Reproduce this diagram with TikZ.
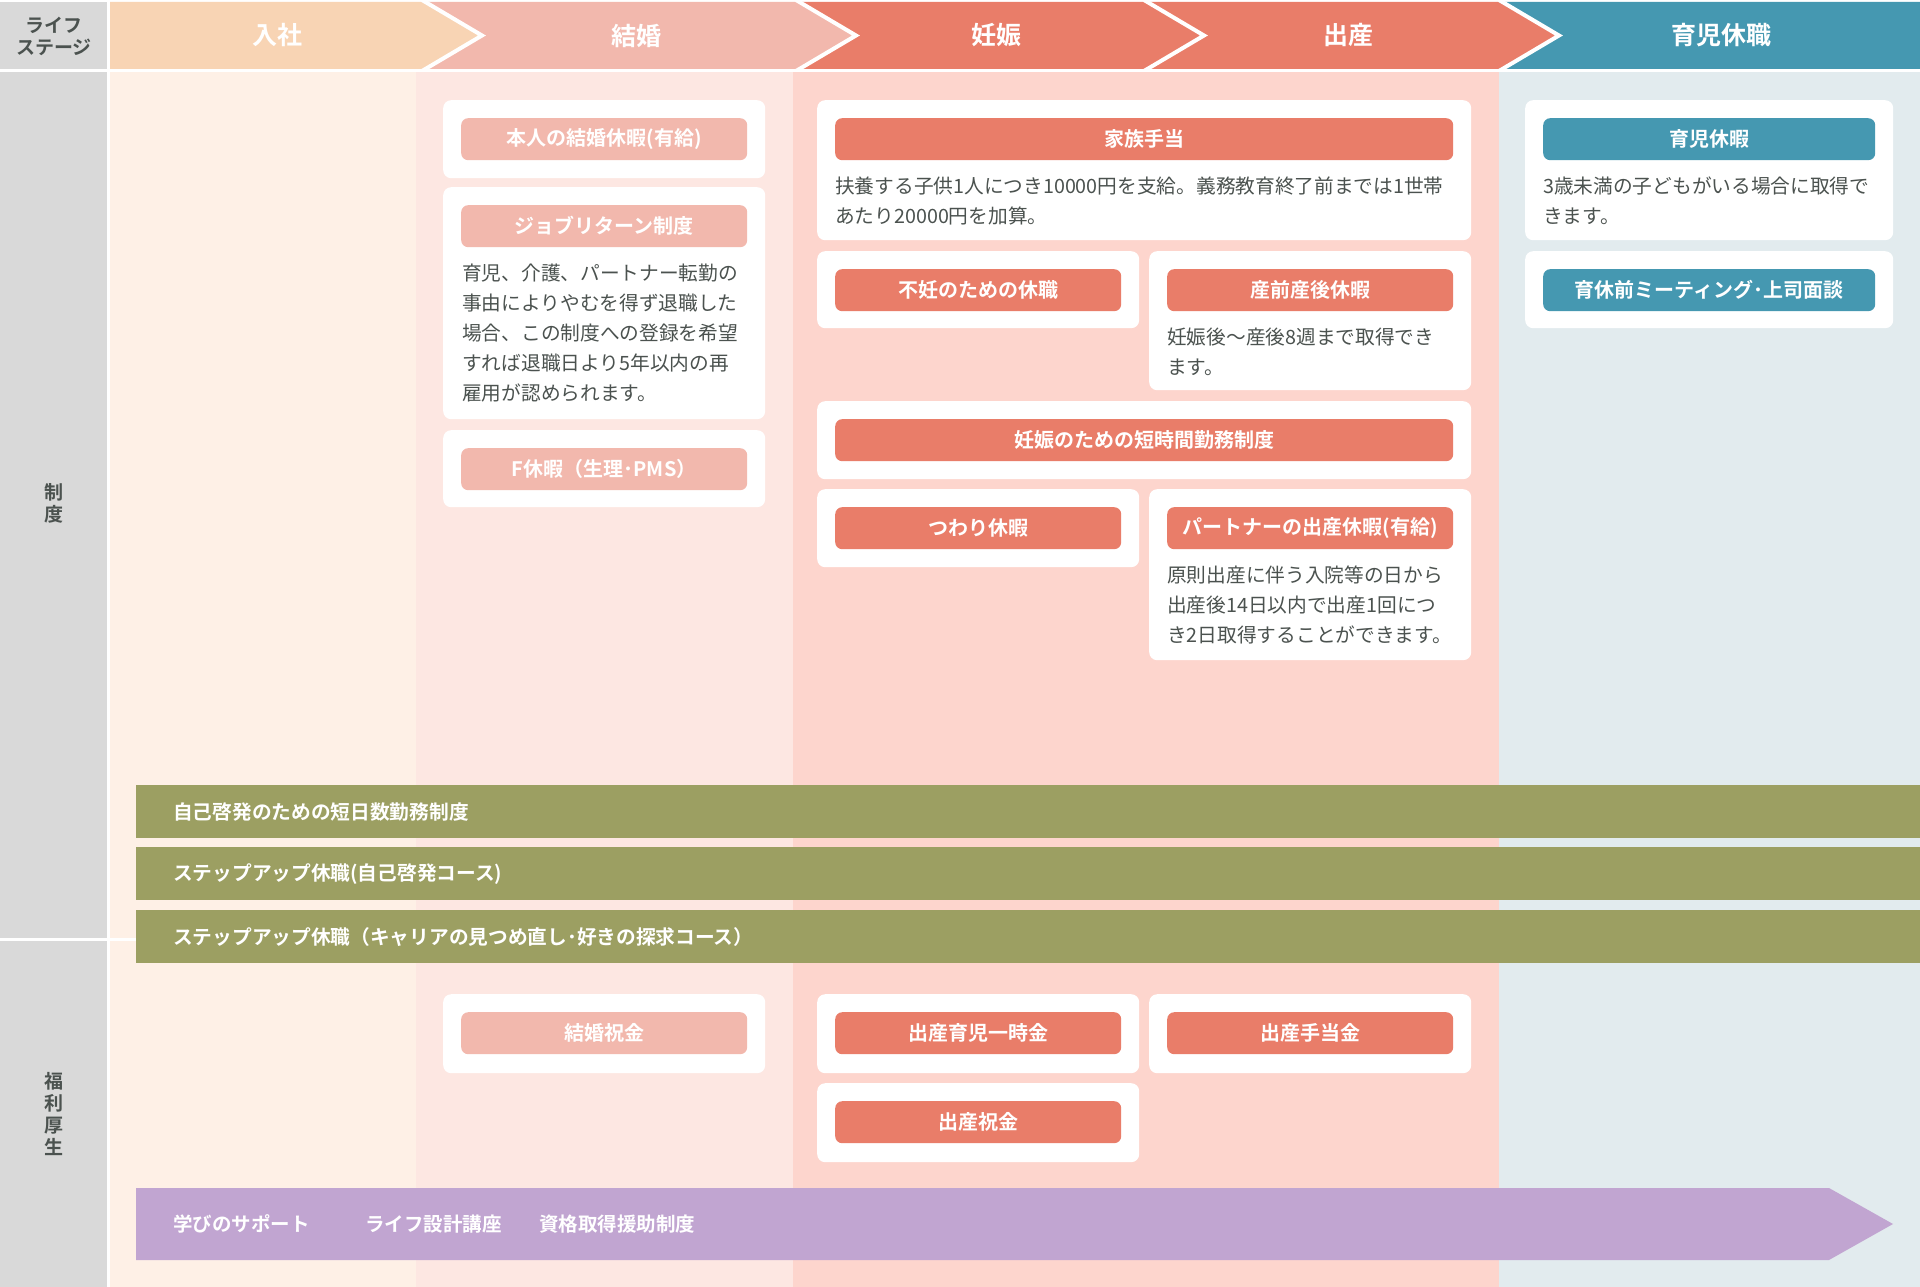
\documentclass[tikz,border=0pt]{standalone}
\usepackage{fontspec}
\setmainfont{Noto Sans CJK JP}[BoldFont={Noto Sans CJK JP Bold}]
\usetikzlibrary{positioning}
\definecolor{lsgray}{HTML}{D9D9D9}
\definecolor{ink}{HTML}{4B524F}
\definecolor{hdjoin}{HTML}{F8D4B4}
\definecolor{bgjoin}{HTML}{FEF0E6}
\definecolor{hdmarry}{HTML}{F2B8AD}
\definecolor{bgmarry}{HTML}{FDE7E2}
\definecolor{hdbirth}{HTML}{E97D69}
\definecolor{bgbirth}{HTML}{FDD5CD}
\definecolor{hdcare}{HTML}{4598B1}
\definecolor{bgcare}{HTML}{E2EBEE}
\definecolor{olive}{HTML}{9C9F62}
\definecolor{lilac}{HTML}{C1A5D1}

\begin{document}
\begin{tikzpicture}[x=1pt, y=-1pt]
    \tikzset{
        card/.style={fill=white, rounded corners=8pt, inner sep=0pt, anchor=north west},
        tag/.style={rounded corners=7pt, minimum height=42pt, inner sep=0pt, text=white, font=\fontsize{20}{20}\selectfont\bfseries},
        desc/.style={inner sep=0pt, align=left, text=ink, font=\fontsize{19.7}{30}\selectfont},
        stage/.style={text=white, font=\fontsize{25}{25}\selectfont\bfseries},
        side/.style={align=center, inner sep=0pt, text=ink, font=\fontsize{19}{22}\selectfont\bfseries},
        band/.style={fill=olive, anchor=north west, minimum height=53pt, text width=1710pt, inner xsep=37pt, inner ysep=0pt, align=left, text=white, font=\fontsize{19.7}{19.7}\selectfont\bfseries},
        learn/.style={anchor=west, inner sep=0pt, text=white, font=\fontsize{19.5}{19.5}\selectfont\bfseries}
    };
    \fill[white] (0,0) rectangle (1920,1287);
    \useasboundingbox (0,0) rectangle (1920,1287);
    % Header
    \fill[lsgray] (0,2) rectangle (107,69);
    \node[side] (lifestage) at (54,36) {ライフ\\ステージ};
    \fill[hdjoin] (110,2) -- (422,2) -- (482,35.5) -- (422,69) -- (110,69) -- cycle;
    \foreach \xa/\xb/\c in {422/796/hdmarry, 796/1144/hdbirth, 1144/1499/hdbirth}{
        \fill[\c] (\xa,2) -- (\xb,2) -- (\xb+60,35.5) -- (\xb,69) -- (\xa,69) -- (\xa+60,35.5) -- cycle;
    }
    \fill[hdcare] (1499,2) -- (1920,2) -- (1920,69) -- (1499,69) -- (1559,35.5) -- cycle;
    \foreach \xa in {422, 796, 1144, 1499}{
        \draw[white, line width=4pt] (\xa,0) -- (\xa+60,35.5) -- (\xa,71);
    }
    \foreach \n/\x/\t in {join/277/入社, marry/636/結婚, preg/996/妊娠, birth/1348/出産, care/1721/育児休職}{
        \node[stage] (\n) at (\x,35.5) {\t};
    }
    % Columns
    \fill[lsgray] (0,72) rectangle (107,1287);
    \fill[bgjoin] (110,72) rectangle (416,1287);
    \fill[bgmarry] (416,72) rectangle (793,1287);
    \fill[bgbirth] (793,72) rectangle (1499,1287);
    \fill[bgcare] (1499,72) rectangle (1920,1287);
    \draw[white, line width=3pt] (0,939) -- (136,939);
    \node[side] (seido) at (54,503) {制\\度};
    \node[side] (fukuri) at (54,1114) {福\\利\\厚\\生};
    % Cards
    \foreach \n/\x/\y/\w/\h in {mA/443/100/322/78, mB/443/187/322/232, mC/443/430/322/77,
        bA/817/100/654/140, bB/817/251/322/77, bC/1149/251/322/139, bD/817/401/654/78,
        bE/817/489/322/78, bF/1149/489/322/171, cA/1525/100/368/140, cB/1525/251/368/77,
        wA/443/994/322/79, wB/817/994/322/79, wC/1149/994/322/79, wD/817/1083/322/79}{
        \node[card, minimum width=\w, minimum height=\h] (\n) at (\x,\y) {};
    }
    \foreach \n/\c/\w/\t in {mA/hdmarry/286/本人の結婚休暇(有給), mB/hdmarry/286/ジョブリターン制度,
        mC/hdmarry/286/F休暇（生理･PMS）, bA/hdbirth/618/家族手当, bB/hdbirth/286/不妊のための休職,
        bC/hdbirth/286/産前産後休暇, bD/hdbirth/618/妊娠のための短時間勤務制度, bE/hdbirth/286/つわり休暇,
        bF/hdbirth/286/パートナーの出産休暇(有給), cA/hdcare/332/育児休暇, cB/hdcare/332/育休前ミーティング･上司面談,
        wA/hdmarry/286/結婚祝金, wB/hdbirth/286/出産育児一時金, wC/hdbirth/286/出産手当金, wD/hdbirth/286/出産祝金}{
        \node[tag, fill=\c, minimum width=\w, below=18pt of \n.north] (\n-t) {\t};
    }
    \node[desc, below right=16pt and 1pt of mB-t.south west] (mB-d)
        {育児、介護、パートナー転勤の\\事由によりやむを得ず退職した\\場合、この制度への登録を希望\\すれば退職日より5年以内の再\\雇用が認められます。};
    \node[desc, below right=16pt and 0pt of bA-t.south west] (bA-d)
        {扶養する子供1人につき10000円を支給。義務教育終了前までは1世帯\\あたり20000円を加算。};
    \node[desc, below right=16pt and 0pt of bC-t.south west] (bC-d)
        {妊娠後～産後8週まで取得でき\\ます。};
    \node[desc, below right=16pt and 0pt of bF-t.south west] (bF-d)
        {原則出産に伴う入院等の日から\\出産後14日以内で出産1回につ\\き2日取得することができます。};
    \node[desc, below right=16pt and 0pt of cA-t.south west] (cA-d)
        {3歳未満の子どもがいる場合に取得で\\きます。};
    % Bands
    \foreach \n/\y/\t in {stepA/785/自己啓発のための短日数勤務制度, stepB/847/ステップアップ休職(自己啓発コース),
        stepC/910/ステップアップ休職（キャリアの見つめ直し･好きの探求コース）}{
        \node[band] (\n) at (136,\y) {\t};
    }
    \fill[lilac] (136,1188) -- (1829,1188) -- (1893,1224) -- (1829,1260) -- (136,1260) -- cycle;
    \foreach \n/\x/\t in {support/173/学びのサポート, lifeplan/365/ライフ設計講座, license/539/資格取得援助制度}{
        \node[learn] (\n) at (\x,1224) {\t};
    }
\end{tikzpicture}
\end{document}
